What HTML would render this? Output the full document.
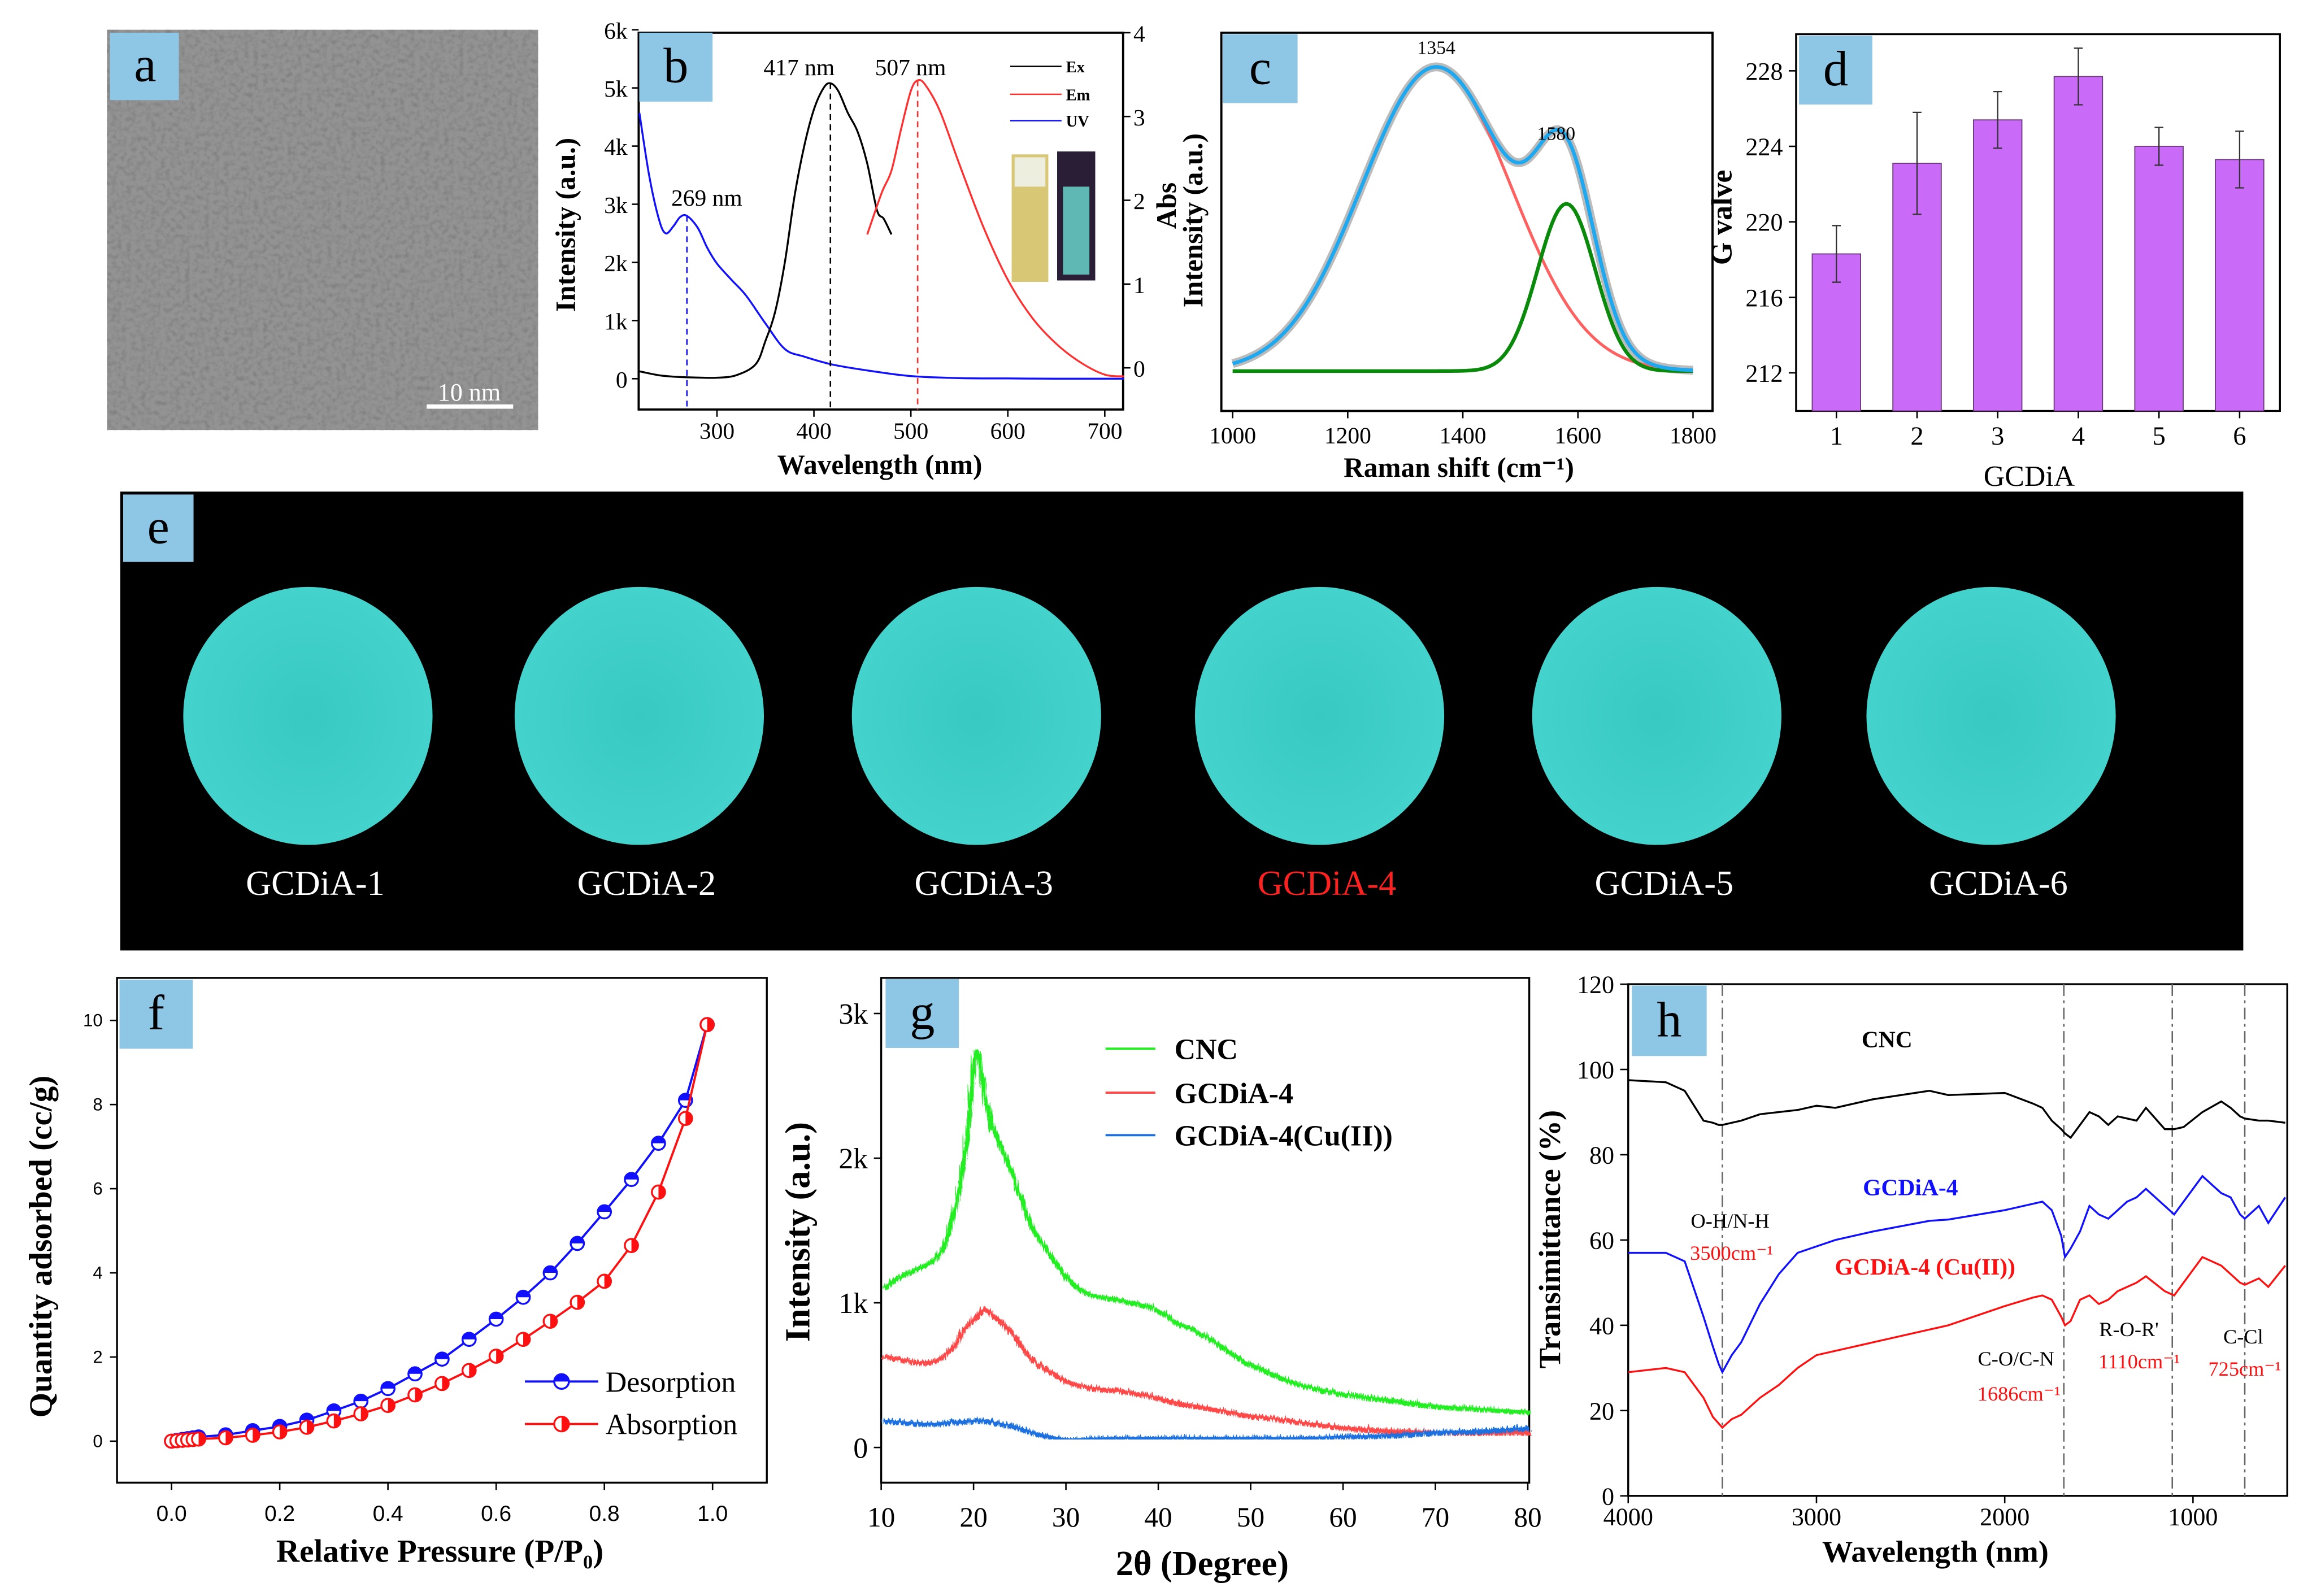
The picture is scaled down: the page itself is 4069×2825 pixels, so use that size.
<!DOCTYPE html>
<html><head><meta charset="utf-8"><style>
html,body{margin:0;padding:0;background:#fff}
svg{display:block}
text{font-family:"Liberation Serif",serif}
</style></head><body>
<svg id="fig" width="4069" height="2825" viewBox="0 0 1568 1088" xmlns="http://www.w3.org/2000/svg">
<defs>
<filter id="tem" x="0" y="0" width="100%" height="100%"><feTurbulence type="fractalNoise" baseFrequency="0.3" numOctaves="2" seed="3"/><feColorMatrix type="matrix" values="0 0 0 0 0.22 0 0 0 0 0.22 0 0 0 0 0.22 -1.8 -1.3 0 0 1.75"/></filter>
<filter id="jit" x="-2%" y="-10%" width="104%" height="120%"><feTurbulence type="turbulence" baseFrequency="0.9 0.05" numOctaves="1" seed="7" result="n"/><feDisplacementMap in="SourceGraphic" in2="n" scale="5" xChannelSelector="G" yChannelSelector="R"/></filter>
<radialGradient id="cg" cx="50%" cy="50%" r="50%"><stop offset="0" stop-color="#38c9c3"/><stop offset="1" stop-color="#44d3cc"/></radialGradient>
</defs>
<g>
<rect x="73" y="20" width="294" height="273" fill="#939393"/>
<rect x="73" y="20" width="294" height="273" filter="url(#tem)"/>
<rect x="75" y="22" width="47" height="46" fill="#8ec6e6"/>
<text x="99" y="55" font-size="34" text-anchor="middle">a</text>
<line x1="291" y1="277" x2="350" y2="277" stroke="#fff" stroke-width="3"/>
<text x="320" y="273" font-size="17" fill="#fff" text-anchor="middle" font-family="Liberation Sans">10 nm</text>
</g>
<g id="pb"></g>
<g id="pc"></g>
<g id="pd"></g>
<g id="pe"></g>
<g id="pf"></g>
<g id="pg"></g>
<g id="ph"></g>
</svg>
<script>
// ---- data ----
const bWave=[220,240,260,280,300,320,340,350,360,370,380,390,400,410,417,425,435,445,455,465,472,480];
const bEx=[127,60,30,20,17,60,250,650,1150,2000,3140,4000,4630,5000,5080,4950,4570,4250,3700,2900,2750,2480];
const bEmWave=[455,470,480,490,500,507,515,530,550,575,600,625,650,675,700,720];
const bEm=[2480,3200,3580,4300,4950,5130,5050,4600,3690,2600,1700,1050,600,280,70,40];
const bUvWave=[220,230,240,247,255,262,269,280,290,300,315,330,350,370,390,420,460,500,550,600,650,720];
const bUv=[4570,3500,2750,2500,2620,2780,2800,2600,2250,1980,1700,1430,950,510,380,240,130,45,10,5,0,0];
const cCenters=[1354,1580];
const cHeights=[1.0,0.55];
const cWidths=[130,50];
const dCats=[1,2,3,4,5,6];
const dVals=[218.3,223.1,225.4,227.7,224.0,223.3];
const dErr=[1.5,2.7,1.5,1.5,1.0,1.5];
const eLabels=["GCDiA-1","GCDiA-2","GCDiA-3","GCDiA-4","GCDiA-5","GCDiA-6"];
const fP=[0.0,0.01,0.02,0.03,0.04,0.05,0.1,0.15,0.2,0.25,0.3,0.35,0.4,0.45,0.5,0.55,0.6,0.65,0.7,0.75,0.8,0.85,0.9,0.95,0.99];
const fDes=[0,0.02,0.04,0.06,0.08,0.1,0.15,0.25,0.35,0.5,0.72,0.95,1.25,1.6,1.95,2.42,2.9,3.42,4.0,4.7,5.45,6.22,7.08,8.1,9.9];
const fAbs=[0,0.01,0.02,0.03,0.04,0.05,0.08,0.14,0.22,0.33,0.48,0.65,0.85,1.1,1.37,1.68,2.02,2.42,2.85,3.3,3.8,4.65,5.92,7.67,9.9];
const gX=[10,12,14,16,17,18,19,20,21,22,24,26,28,30,32,35,38,40,42,45,48,50,55,60,65,70,75,80];
const gCNC=[1120,1200,1260,1350,1500,1750,2150,2750,2450,2200,1900,1550,1350,1180,1080,1040,1000,950,870,780,650,580,450,380,340,300,280,260];
const gG4=[650,620,600,620,680,750,850,920,970,920,800,630,540,470,430,410,380,350,320,290,250,230,190,150,130,120,120,120];
const gCu=[200,190,180,180,185,190,195,200,200,185,160,120,90,70,75,80,80,80,80,80,80,80,80,90,100,120,130,150];
const hX=[4000,3800,3700,3600,3550,3520,3500,3450,3400,3300,3200,3100,3000,2900,2700,2400,2300,2000,1850,1800,1750,1700,1680,1650,1600,1550,1500,1450,1400,1350,1300,1250,1150,1100,1050,950,850,800,750,725,650,600,510];
const hCNC=[97.5,97,95,88,87.5,87,87,87.5,88,89.5,90,90.5,91.5,91,93,95,94,94.5,92,91,88,86,85,84,87,90,89,87,89,88.5,88,91,86,86,86.5,90,92.5,91,89,88.5,88,88,87.5];
const hG4=[57,57,55,42,35,31,29,33,36,45,52,57,58.5,60,62,64.5,64.8,67,68.5,69,67,61,56,58,62,68,66,65,67,69,70,72,68,66,69,75,71,70,66,65,68,64,70];
const hCu=[29,30,29,23,18.5,17,16,18,19,23,26,30,33,34,36,39,40,44.5,46.5,47,46,42,40,41,46,47,45,46,48,49,50,51.5,48,47,50,56,54,52,50,49.5,51,49,54];
const hLines=[3500,1686,1110,725];

const NS="http://www.w3.org/2000/svg";
function E(parent,tag,attrs,txt){const e=document.createElementNS(NS,tag);for(const k in attrs)e.setAttribute(k,attrs[k]);if(txt!==undefined)e.textContent=txt;parent.appendChild(e);return e;}
function lin(d0,d1,r0,r1){return v=>r0+(v-d0)*(r1-r0)/(d1-d0);}
function pathD(xs,ys,sx,sy){return xs.map((x,i)=>(i?"L":"M")+sx(x).toFixed(2)+","+sy(ys[i]).toFixed(2)).join("");}
function smoothD(xs,ys,sx,sy){
  const P=xs.map((x,i)=>[sx(x),sy(ys[i])]);let d="M"+P[0][0].toFixed(2)+","+P[0][1].toFixed(2);
  for(let i=0;i<P.length-1;i++){const p0=P[Math.max(0,i-1)],p1=P[i],p2=P[i+1],p3=P[Math.min(P.length-1,i+2)];
    const c1=[p1[0]+(p2[0]-p0[0])/6,p1[1]+(p2[1]-p0[1])/6],c2=[p2[0]-(p3[0]-p1[0])/6,p2[1]-(p3[1]-p1[1])/6];
    d+="C"+c1.map(v=>v.toFixed(2))+" "+c2.map(v=>v.toFixed(2))+" "+p2.map(v=>v.toFixed(2));}
  return d;}
function labelBox(g,x,y,w,h,t,name){
  const r=E(g,"rect",{x:x,y:y,width:w,height:h,fill:"#8ec6e6"});
  
  
  const tt=E(g,"text",{x:x+w/2,y:y+h*0.72,"font-size":34,"text-anchor":"middle"},t);
  
  
}

// ---- panel b ----
(function(){
const g=document.getElementById("pb");
const sx=lin(300,700,489,753.5), sy=lin(0,6000,258,20), sy2=lin(0,4,250.6,22);
const fr=E(g,"rect",{x:435.6,y:22,width:330.4,height:257,fill:"none",stroke:"#000","stroke-width":1.5});

[0,1000,2000,3000,4000,5000,6000].forEach((v,i)=>{const y=sy(v);E(g,"line",{x1:435.6,y1:y,x2:431,y2:y,stroke:"#000"});
 const t=E(g,"text",{x:428,y:y+6,"font-size":16,"text-anchor":"end"},i?i+"k":"0");});
[0,1,2,3,4].forEach(v=>{const y=sy2(v);E(g,"line",{x1:766,y1:y,x2:771,y2:y,stroke:"#000"});
 const t=E(g,"text",{x:773,y:y+6,"font-size":16},String(v));});
[300,400,500,600,700].forEach(v=>{const x=sx(v);E(g,"line",{x1:x,y1:279,x2:x,y2:284,stroke:"#000"});
 const t=E(g,"text",{x:x,y:299,"font-size":16,"text-anchor":"middle"},String(v));});
let t=E(g,"text",{x:600,y:323,"font-size":19,"font-weight":"bold","text-anchor":"middle"},"Wavelength (nm)");
t=E(g,"text",{x:0,y:0,"font-size":19,"font-weight":"bold","text-anchor":"middle",transform:"translate(392,153) rotate(-90)"},"Intensity (a.u.)");
t=E(g,"text",{x:0,y:0,"font-size":19,"font-weight":"bold","text-anchor":"middle",transform:"translate(802,140) rotate(-90)"},"Abs");
let p=E(g,"path",{d:smoothD(bUvWave,bUv,sx,sy),fill:"none",stroke:"#1010ff","stroke-width":1.3});
p=E(g,"path",{d:smoothD(bWave,bEx,sx,sy),fill:"none",stroke:"#000","stroke-width":1.3});
p=E(g,"path",{d:smoothD(bEmWave,bEm,sx,sy),fill:"none",stroke:"#ff3030","stroke-width":1.3});
[[269,2800,"#1010ff","269 nm",482,140],[417,5080,"#000","417 nm",545,51],[507,5130,"#ff3030","507 nm",621,51]].forEach(a=>{
 const x=sx(a[0]);const l=E(g,"line",{x1:x,y1:sy(a[1]),x2:x,y2:279,stroke:a[2],"stroke-dasharray":"4,3"});
 const tt=E(g,"text",{x:a[4],y:a[5],"font-size":16,"text-anchor":"middle"},a[3]);});
[["Ex","#000",45],["Em","#ff3030",64],["UV","#1010ff",82]].forEach(a=>{E(g,"line",{x1:689,y1:a[2],x2:724,y2:a[2],stroke:a[1]});
 const tt=E(g,"text",{x:727,y:a[2]+4,"font-size":11,"font-weight":"bold"},a[0]);});
let r=E(g,"rect",{x:690,y:105,width:25,height:87,fill:"#d8c774"});
E(g,"rect",{x:692,y:107,width:21,height:20,fill:"#eeeede"});
r=E(g,"rect",{x:721,y:103,width:26,height:88,fill:"#2a1d36"});
E(g,"rect",{x:725,y:127,width:18,height:60,fill:"#5fb8b4"});
labelBox(g,436,22,50,47,"b","label-b");
})();

// ---- panel c ----
(function(){
const g=document.getElementById("pc");
const sx=lin(1000,1600,840.7,1076.2), sy=lin(0,1,252.8,45.3);
const fr=E(g,"rect",{x:833,y:22,width:335,height:258,fill:"none",stroke:"#000","stroke-width":1.5});
[1000,1200,1400,1600,1800].forEach(v=>{const x=sx(v);E(g,"line",{x1:x,y1:280,x2:x,y2:285,stroke:"#000"});
 const t=E(g,"text",{x:x,y:302,"font-size":16,"text-anchor":"middle"},String(v));});
let t=E(g,"text",{x:995,y:325,"font-size":19,"font-weight":"bold","text-anchor":"middle"},"Raman shift (cm\u207B\u00B9)");
t=E(g,"text",{x:0,y:0,"font-size":19,"font-weight":"bold","text-anchor":"middle",transform:"translate(820,150) rotate(-90)"},"Intensity (a.u.)");
const xs=[];for(let x=1000;x<=1800;x+=5)xs.push(x);
const gs=(k,x)=>cHeights[k]*Math.exp(-0.5*Math.pow((x-cCenters[k])/cWidths[k],2));
const y0=xs.map(x=>gs(0,x)), y1=xs.map(x=>gs(1,x)), ys=xs.map((x,i)=>y0[i]+y1[i]);
let p=E(g,"path",{d:pathD(xs,ys,sx,sy),fill:"none",stroke:"#bbb","stroke-width":6});
p=E(g,"path",{d:pathD(xs,y0,sx,sy),fill:"none",stroke:"#ff6060","stroke-width":2});
p=E(g,"path",{d:pathD(xs,y1,sx,sy),fill:"none",stroke:"#0a8a0a","stroke-width":2.5});
p=E(g,"path",{d:pathD(xs,ys,sx,sy),fill:"none",stroke:"#1ea8f0","stroke-width":2.5});
const lp=[[979.6,36.5],[1061.4,95]];
cCenters.forEach((c,k)=>{const tt=E(g,"text",{x:lp[k][0],y:lp[k][1],"font-size":13,"text-anchor":"middle"},String(c));});
labelBox(g,834,23,51,47,"c","label-c");
})();

// ---- panel d ----
(function(){
const g=document.getElementById("pd");
const sy=lin(212,228,254,48), sx=lin(1,6,1252.5,1527.5);
const fr=E(g,"rect",{x:1225,y:23,width:330,height:257,fill:"none",stroke:"#000","stroke-width":1.3});
[212,216,220,224,228].forEach(v=>{const y=sy(v);E(g,"line",{x1:1225,y1:y,x2:1220,y2:y,stroke:"#000"});
 const t=E(g,"text",{x:1216,y:y+6,"font-size":17,"text-anchor":"end"},String(v));});
dCats.forEach((c,i)=>{const x=sx(c);const y=sy(dVals[i]);
 const b=E(g,"rect",{x:x-16.5,y:y,width:33,height:280-y,fill:"#c96af8",stroke:"#6a3a7a","stroke-width":0.7});
 const e1=sy(dVals[i]+dErr[i]),e2=sy(dVals[i]-dErr[i]);
 const el=E(g,"path",{d:`M${x},${e1}V${e2}M${x-3},${e1}H${x+3}M${x-3},${e2}H${x+3}`,stroke:"#333",fill:"none","stroke-width":0.9});
 E(g,"line",{x1:x,y1:280,x2:x,y2:285,stroke:"#000"});
 const t=E(g,"text",{x:x,y:303,"font-size":18,"text-anchor":"middle"},String(c));});
let t=E(g,"text",{x:1384,y:331,"font-size":20,"text-anchor":"middle"},"GCDiA");
t=E(g,"text",{x:0,y:0,"font-size":20,"font-weight":"bold","text-anchor":"middle",transform:"translate(1181,148) rotate(-90)"},"G valve");
labelBox(g,1227,24,50,47,"d","label-d");
})();

// ---- panel e ----
(function(){
const g=document.getElementById("pe");
const r=E(g,"rect",{x:82,y:335,width:1448,height:313,fill:"#000"});
const cx=[210,436,666,900,1130,1358];
eLabels.forEach((l,i)=>{const c=E(g,"ellipse",{cx:cx[i],cy:488,rx:85,ry:88,fill:"url(#cg)"});
 const t=E(g,"text",{x:cx[i]+5,y:610,"font-size":24,"text-anchor":"middle",fill:i==3?"#ff2020":"#fff"},l);});
labelBox(g,84,337,48,46,"e","label-e");
})();

// ---- panel f ----
(function(){
const g=document.getElementById("pf");
const sx=lin(0,1,117,486), sy=lin(0,10,982.7,695.7);
const fr=E(g,"rect",{x:79.8,y:666.7,width:443.2,height:344.3,fill:"none",stroke:"#000","stroke-width":1.3});
[0,2,4,6,8,10].forEach(v=>{const y=sy(v);E(g,"line",{x1:79.8,y1:y,x2:75,y2:y,stroke:"#000"});
 const t=E(g,"text",{x:70,y:y+4,"font-size":12,"text-anchor":"end",style:"font-family:'Liberation Sans'"},String(v));});
[0,0.2,0.4,0.6,0.8,1.0].forEach(v=>{const x=sx(v);E(g,"line",{x1:x,y1:1011,x2:x,y2:1016,stroke:"#000"});
 const t=E(g,"text",{x:x,y:1037,"font-size":15,"text-anchor":"middle",style:"font-family:'Liberation Sans'"},v.toFixed(1));});
let t=E(g,"text",{x:300,y:1065,"font-size":22,"font-weight":"bold","text-anchor":"middle"},"Relative Pressure (P/P\u2080)");
t=E(g,"text",{x:0,y:0,"font-size":22,"font-weight":"bold","text-anchor":"middle",transform:"translate(35,850) rotate(-90)"},"Quantity adsorbed (cc/g)");
[[fDes,"#1010ff","desorption"],[fAbs,"#ff1010","absorption"]].forEach(s=>{
 const p=E(g,"path",{d:pathD(fP,s[0],sx,sy),fill:"none",stroke:s[1],"stroke-width":1.5});
 fP.forEach((x,i)=>{const cx=sx(x),cy=sy(s[0][i]);const c=E(g,"circle",{cx:cx,cy:cy,r:4.5,fill:"#fff",stroke:s[1],"stroke-width":1.3});
  if(s[2]=="desorption")E(g,"path",{d:`M${cx-4.5},${cy}a4.5,4.5 0 0 1 9,0z`,fill:s[1]});
  else E(g,"path",{d:`M${cx},${cy-4.5}a4.5,4.5 0 0 1 0,9z`,fill:s[1]});});});
[["Desorption","#1010ff",942],["Absorption","#ff1010",971]].forEach((a,k)=>{E(g,"line",{x1:358,y1:a[2],x2:408,y2:a[2],stroke:a[1],"stroke-width":1.5});E(g,"circle",{cx:383,cy:a[2],r:5,fill:"#fff",stroke:a[1],"stroke-width":1.3});
 E(g,"path",{d:k?`M383,${a[2]-5}a5,5 0 0 1 0,10z`:`M378,${a[2]}a5,5 0 0 1 10,0z`,fill:a[1]});
 const tt=E(g,"text",{x:413,y:a[2]+7,"font-size":20},a[0]);});
labelBox(g,81.5,668,50,47,"f","label-f");
})();

// ---- panel g ----
(function(){
const g=document.getElementById("pg");
const sx=lin(10,80,601,1042), sy=lin(0,3000,987,691);
const fr=E(g,"rect",{x:601,y:666.7,width:442,height:344.3,fill:"none",stroke:"#000","stroke-width":1.3});
[0,1000,2000,3000].forEach((v,i)=>{const y=sy(v);E(g,"line",{x1:601,y1:y,x2:596,y2:y,stroke:"#000"});
 const t=E(g,"text",{x:592,y:y+7,"font-size":20,"text-anchor":"end"},i?i+"k":"0");});
[10,20,30,40,50,60,70,80].forEach(v=>{const x=sx(v);E(g,"line",{x1:x,y1:1011,x2:x,y2:1016,stroke:"#000"});
 const t=E(g,"text",{x:x,y:1041,"font-size":19,"text-anchor":"middle"},String(v));});
let t=E(g,"text",{x:820,y:1074,"font-size":24,"font-weight":"bold","text-anchor":"middle"},"2\u03B8 (Degree)");
t=E(g,"text",{x:0,y:0,"font-size":24,"font-weight":"bold","text-anchor":"middle",transform:"translate(552,840) rotate(-90)"},"Intensity (a.u.)");
[[gCNC,"#22ee22","cnc"],[gG4,"#ff4a4a","gcdia-4"],[gCu,"#1a6fe0","gcdia-4-cu"]].forEach(s=>{
 const p=E(g,"path",{d:smoothD(gX,s[0],sx,sy),fill:"none",stroke:s[1],"stroke-width":3.2,"stroke-linejoin":"round",filter:"url(#jit)"});});
[["CNC","#22ee22",720],["GCDiA-4","#ff4a4a",750],["GCDiA-4(Cu(II))","#1a6fe0",779]].forEach(a=>{E(g,"line",{x1:754,y1:a[2]-5,x2:788,y2:a[2]-5,stroke:a[1],"stroke-width":1.5});
 const tt=E(g,"text",{x:801,y:a[2]+2,"font-size":20,"font-weight":"bold"},a[0]);});
labelBox(g,604,667.5,50,47,"g","label-g");
})();

// ---- panel h ----
(function(){
const g=document.getElementById("ph");
const sx=lin(4000,1000,1110.5,1495.7), sy=lin(0,120,1020,671);
const fr=E(g,"rect",{x:1110.5,y:671,width:449.5,height:349,fill:"none",stroke:"#000","stroke-width":1.3});
[0,20,40,60,80,100,120].forEach(v=>{const y=sy(v);E(g,"line",{x1:1110.5,y1:y,x2:1105,y2:y,stroke:"#000"});
 const t=E(g,"text",{x:1101,y:y+6,"font-size":17,"text-anchor":"end"},String(v));});
[4000,3000,2000,1000].forEach(v=>{const x=sx(v);E(g,"line",{x1:x,y1:1020,x2:x,y2:1025,stroke:"#000"});
 const t=E(g,"text",{x:x,y:1040,"font-size":17,"text-anchor":"middle"},String(v));});
let t=E(g,"text",{x:1320,y:1065,"font-size":21,"font-weight":"bold","text-anchor":"middle"},"Wavelength (nm)");
t=E(g,"text",{x:0,y:0,"font-size":21,"font-weight":"bold","text-anchor":"middle",transform:"translate(1064,845) rotate(-90)"},"Transimittance (%)");
hLines.forEach(v=>{const l=E(g,"line",{x1:sx(v),y1:671,x2:sx(v),y2:1020,stroke:"#666","stroke-dasharray":"8,3,2,3"});});
[[hCNC,"#000","cnc"],[hG4,"#1010ff","gcdia-4"],[hCu,"#ff1010","gcdia-4-cu"]].forEach(s=>{
 const p=E(g,"path",{d:pathD(hX,s[0],sx,sy),fill:"none",stroke:s[1],"stroke-width":1.3});});
[["CNC",1287,714,"#000",16,1],["GCDiA-4",1303,815,"#1010ff",16,1],["GCDiA-4 (Cu(II))",1313,869,"#ff1010",16,1],
 ["O-H/N-H",1180,837,"#000",14,0],["3500cm\u207B\u00B9",1181,859,"#ff1010",14,0],["C-O/C-N",1375,931,"#000",14,0],["1686cm\u207B\u00B9",1377,955,"#ff1010",14,0],
 ["R-O-R'",1452,911,"#000",14,0],["1110cm\u207B\u00B9",1459,933,"#ff1010",14,0],["C-Cl",1530,916,"#000",14,0],["725cm\u207B\u00B9",1531,938,"#ff1010",14,0]].forEach(a=>{
 const tt=E(g,"text",{x:a[1],y:a[2],"font-size":a[4],"font-weight":a[5]?"bold":"normal","text-anchor":"middle",fill:a[3]},a[0]);});
labelBox(g,1113,672,51,48,"h","label-h");
})();
</script>
</body></html>
